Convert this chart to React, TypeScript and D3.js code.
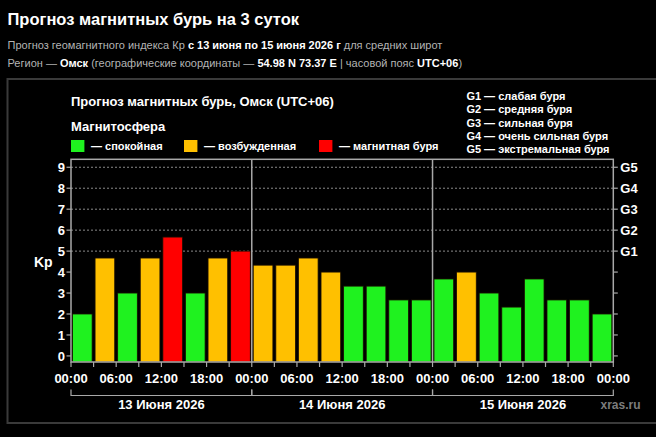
import React from 'react';
import * as d3 from 'd3';

// Kp forecast, 3-hour intervals, 13–15 June 2026 (UTC+06)
const kpValues = [
  2, 4.67, 3, 4.67, 5.67, 3, 4.67, 5,
  4.33, 4.33, 4.67, 4, 3.33, 3.33, 2.67, 2.67,
  3.67, 4, 3, 2.33, 3.67, 2.67, 2.67, 2,
];
const dayLabels = ['13 Июня 2026', '14 Июня 2026', '15 Июня 2026'];
const kpTicks = [0, 1, 2, 3, 4, 5, 6, 7, 8, 9];
const stormLevels = ['G1', 'G2', 'G3', 'G4', 'G5'];
const stormKp = [5, 6, 7, 8, 9];
const stormLegend = [
  'G1 — слабая буря',
  'G2 — средняя буря',
  'G3 — сильная буря',
  'G4 — очень сильная буря',
  'G5 — экстремальная буря',
];
const stateLabels = ['— спокойная', '— возбужденная', '— магнитная буря'];

const GREEN = '#1ff21f';
const ORANGE = '#ffc000';
const RED = '#ff0000';
const stateColors = [GREEN, ORANGE, RED];
const FONT = '"Liberation Sans", Arial, sans-serif';

function kpColor(kp: number) {
  if (kp >= 5) return RED;
  if (kp >= 4) return ORANGE;
  return GREEN;
}

export default function App() {
  const W = 656;
  const H = 437;
  const plot = { left: 71, right: 613.3, top: 159.3, bottom: 362 };

  const start = new Date(Date.UTC(2026, 5, 13));
  const end = new Date(Date.UTC(2026, 5, 16));
  const x = d3.scaleUtc().domain([start, end]).range([plot.left, plot.right]);
  const y = d3.scaleLinear().domain([-0.29, 9.38]).range([plot.bottom, plot.top]);
  const band = d3
    .scaleBand<number>()
    .domain(d3.range(kpValues.length))
    .range([plot.left, plot.right])
    .paddingInner(0.13)
    .paddingOuter(0.065);

  const hourTicks = d3.utcHour.every(3)!.range(start, d3.utcHour.offset(end, 1));
  const fmt = d3.utcFormat('%H:%M');
  const days = d3.utcDay.range(start, end);

  const gray = '#b4b4b4';

  return (
    <div style={{ position: 'fixed', left: 0, top: 0, width: W, height: H, background: '#000' }}>
      <svg width={W} height={H} style={{ display: 'block', fontFamily: FONT }}>
        <rect width={W} height={H} fill="#000" />

        {/* page header */}
        <text x={7.5} y={24.5} fill="#fff" fontSize={16.5} fontWeight="bold">
          Прогноз магнитных бурь на 3 суток
        </text>
        <text x={7.5} y={48.5} fill={gray} fontSize={11}>
          Прогноз геомагнитного индекса Кр{' '}
          <tspan fill="#fff" fontWeight="bold">с 13 июня по 15 июня 2026 г</tspan> для средних широт
        </text>
        <text x={7.5} y={67} fill={gray} fontSize={11}>
          Регион — <tspan fill="#fff" fontWeight="bold">Омск</tspan> (географические координаты —{' '}
          <tspan fill="#fff" fontWeight="bold">54.98 N 73.37 E</tspan> | часовой пояс{' '}
          <tspan fill="#fff" fontWeight="bold">UTC+06</tspan>)
        </text>

        {/* panel */}
        <rect x={7.5} y={79} width={700} height={344} fill="#000" stroke="#3a3a3a" strokeWidth={2} />

        <text x={71} y={105.5} fill="#fff" fontSize={13} fontWeight="bold">
          Прогноз магнитных бурь, Омск (UTC+06)
        </text>
        <text x={71} y={130.5} fill="#fff" fontSize={13} fontWeight="bold">
          Магнитосфера
        </text>

        {/* state legend */}
        {stateLabels.map((label, i) => {
          const lx = [71, 184, 319][i];
          return (
            <g key={label}>
              <rect x={lx} y={140} width={13.4} height={12} fill={stateColors[i]} />
              <text x={lx + 20} y={150} fill="#fff" fontSize={11} fontWeight="bold">
                {label}
              </text>
            </g>
          );
        })}

        {/* storm levels legend */}
        {stormLegend.map((label, i) => (
          <text key={label} x={466.4} y={99.7 + i * 13.4} fill="#fff" fontSize={11} fontWeight="bold">
            {label}
          </text>
        ))}

        {/* grid lines at storm levels */}
        {stormKp.map((k) => (
          <line
            key={k}
            x1={plot.left}
            x2={plot.right}
            y1={y(k)}
            y2={y(k)}
            stroke="#8a8a8a"
            strokeWidth={1}
            strokeDasharray="2,2"
          />
        ))}

        {/* bars */}
        {kpValues.map((v, i) => (
          <rect
            key={i}
            x={band(i)}
            y={y(v)}
            width={band.bandwidth()}
            height={plot.bottom - y(v)}
            fill={kpColor(v)}
            stroke="#1a0d00"
            strokeWidth={0.8}
          />
        ))}

        {/* frame and day dividers */}
        <rect
          x={plot.left}
          y={plot.top}
          width={plot.right - plot.left}
          height={plot.bottom - plot.top}
          fill="none"
          stroke="#a8a8a8"
          strokeWidth={1.5}
        />
        {days.slice(1).map((d) => (
          <line key={+d} x1={x(d)} x2={x(d)} y1={plot.top} y2={plot.bottom} stroke="#a8a8a8" strokeWidth={1.5} />
        ))}

        {/* left axis */}
        {kpTicks.map((k) => (
          <g key={k}>
            <line x1={plot.left - 4.5} x2={plot.left} y1={y(k)} y2={y(k)} stroke="#a8a8a8" strokeWidth={1.2} />
            <text x={plot.left - 6} y={y(k)} dy="0.36em" textAnchor="end" fill="#fff" fontSize={13} fontWeight="bold">
              {k}
            </text>
            <line x1={plot.right} x2={plot.right + 4.5} y1={y(k)} y2={y(k)} stroke="#a8a8a8" strokeWidth={1.2} />
          </g>
        ))}
        <text x={34} y={262} dy="0.36em" fill="#fff" fontSize={14} fontWeight="bold">
          Kp
        </text>

        {/* right axis storm labels */}
        {stormLevels.map((g, i) => (
          <text key={g} x={plot.right + 7} y={y(stormKp[i])} dy="0.36em" fill="#fff" fontSize={13} fontWeight="bold">
            {g}
          </text>
        ))}

        {/* bottom time axis */}
        {hourTicks.map((t) => (
          <g key={+t}>
            <line x1={x(t)} x2={x(t)} y1={plot.bottom} y2={plot.bottom + 5} stroke="#a8a8a8" strokeWidth={1.2} />
            {t.getUTCHours() % 6 === 0 && (
              <text x={x(t)} y={382.5} textAnchor="middle" fill="#fff" fontSize={13} fontWeight="bold">
                {fmt(t)}
              </text>
            )}
          </g>
        ))}

        {/* day brackets */}
        {days.map((d, i) => {
          const x0 = x(d);
          const x1 = x(d3.utcDay.offset(d, 1));
          return (
            <g key={+d}>
              <path
                d={`M${x0},389.5V395.5H${x1}V389.5`}
                fill="none"
                stroke="#a8a8a8"
                strokeWidth={1.2}
              />
              <text x={(x0 + x1) / 2} y={409} textAnchor="middle" fill="#fff" fontSize={13} fontWeight="bold">
                {dayLabels[i]}
              </text>
            </g>
          );
        })}

        <text x={600.5} y={408.5} fill="#7c7c7c" fontSize={12} fontWeight="bold">
          xras.ru
        </text>
      </svg>
    </div>
  );
}
